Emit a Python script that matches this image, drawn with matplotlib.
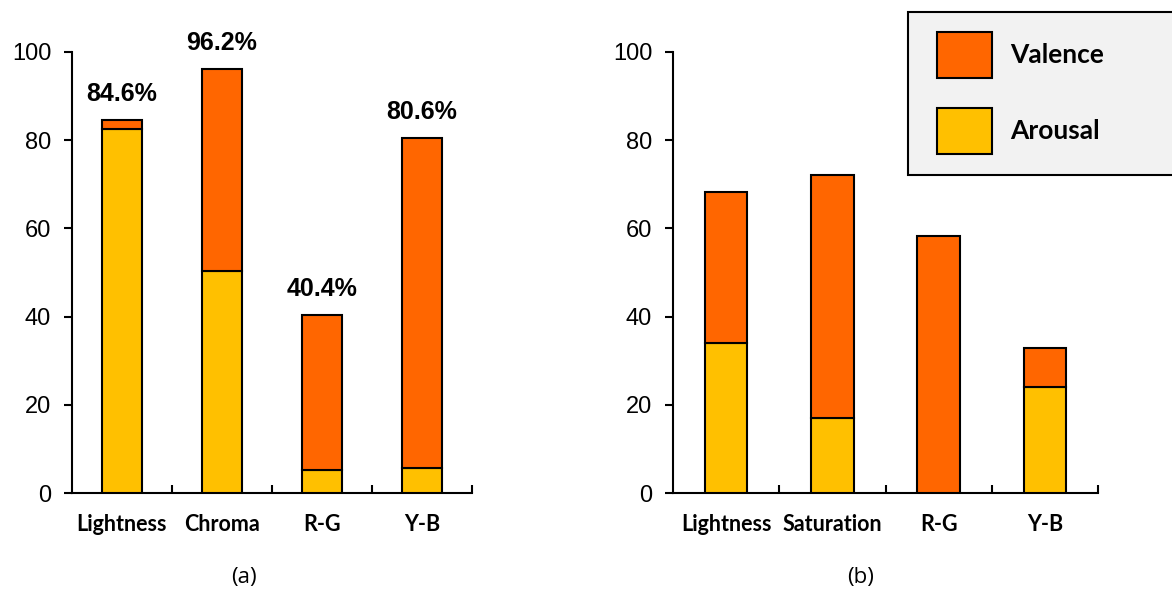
import matplotlib
matplotlib.use("Agg")
import matplotlib.pyplot as plt
from matplotlib.patches import Rectangle
import numpy as np

plt.rcParams["font.family"] = ["Liberation Sans", "DejaVu Sans"]

cats_a = ["Lightness", "Chroma", "R-G", "Y-B"]
arousal_a = [82.5, 50.4, 5.2, 5.7]
total_a = [84.6, 96.2, 40.4, 80.6]
pct_a = ["84.6%", "96.2%", "40.4%", "80.6%"]

cats_b = ["Lightness", "Saturation", "R-G", "Y-B"]
arousal_b = [34.0, 17.0, 0.0, 24.0]
total_b = [68.2, 72.1, 58.3, 32.9]

legend_labels = ["Valence", "Arousal"]

orange = "#FF6600"
yellow = "#FFC000"

fig = plt.figure(figsize=(11.72, 5.92), dpi=100)
ax1 = fig.add_axes([72/1172, 1-493/592, 400/1172, 441/592])
ax2 = fig.add_axes([673/1172, 1-493/592, 425/1172, 441/592])


def draw(ax, cats, arousal, total):
    x = np.arange(len(cats))
    arousal = np.array(arousal)
    valence = np.array(total) - arousal
    ax.bar(x, arousal, 0.4, color=yellow, edgecolor="black", linewidth=1.5, zorder=3)
    ax.bar(x, valence, 0.4, bottom=arousal, color=orange, edgecolor="black",
           linewidth=1.5, zorder=3)
    ax.set_xlim(-0.5, len(cats) - 0.5)
    ax.set_ylim(0, 100)
    ax.set_yticks([0, 20, 40, 60, 80, 100])
    ax.set_xticks(x)
    ax.set_xticklabels(cats, fontfamily="Lato", fontweight="bold", fontsize=15.5)
    ax.set_xticks(list(x + 0.5), minor=True)
    ax.tick_params(axis="x", which="major", length=0, pad=15)
    ax.tick_params(axis="x", which="minor", direction="in", length=6, width=1.5)
    ax.tick_params(axis="y", direction="out", length=6, width=1.5, pad=9,
                   labelsize=17)
    for s in ["top", "right"]:
        ax.spines[s].set_visible(False)
    for s in ["left", "bottom"]:
        ax.spines[s].set_linewidth(1.5)
    return x


x = draw(ax1, cats_a, arousal_a, total_a)
for xi, t, lab in zip(x, total_a, pct_a):
    ax1.annotate(lab, (xi, t), xytext=(0, 10), textcoords="offset points",
                 ha="center", va="bottom", fontsize=18, fontweight="bold")
draw(ax2, cats_b, arousal_b, total_b)

fig.text(244/1172, 1-578/592, "(a)", ha="center", va="center", fontsize=16,
         fontfamily="Open Sans")
fig.text(861/1172, 1-578/592, "(b)", ha="center", va="center", fontsize=16,
         fontfamily="Open Sans")

# legend box, drawn by hand to match the boxed legend
fig.patches.append(Rectangle((908/1172, 1-175/592), 280/1172, 163/592,
                             transform=fig.transFigure, facecolor="#F2F2F2",
                             edgecolor="black", linewidth=1.5, zorder=1))
for i, (lab, col) in enumerate(zip(legend_labels, [orange, yellow])):
    top = 32 + i * 76
    fig.patches.append(Rectangle((937/1172, 1-(top+46)/592), 55/1172, 46/592,
                                 transform=fig.transFigure, facecolor=col,
                                 edgecolor="black", linewidth=1.5, zorder=2))
    fig.text(1010/1172, 1-(top+23)/592, lab, ha="left", va="center",
             fontsize=19, fontweight="bold", fontfamily="Lato", zorder=3)

fig.savefig("out.png", dpi=100)
